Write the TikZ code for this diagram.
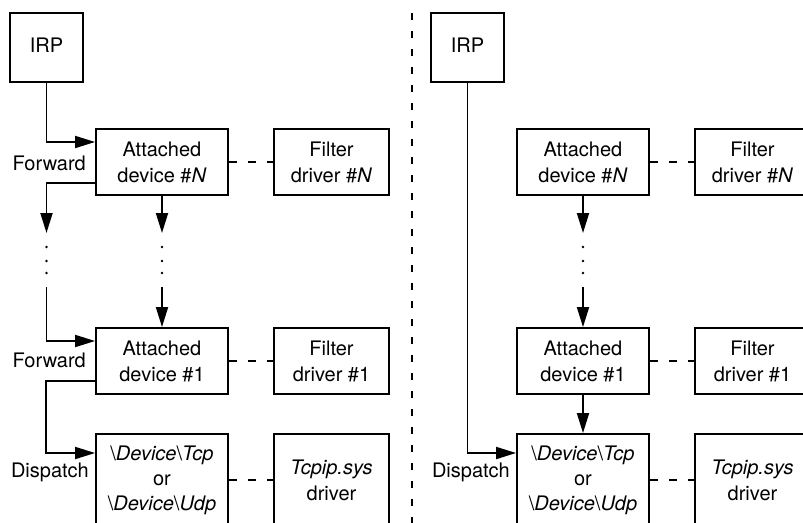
\documentclass[tikz,border=0pt]{standalone}
\usepackage{fontspec}
\setmainfont{TeX Gyre Heros}
\usetikzlibrary{arrows.meta}
\begin{document}
\begin{tikzpicture}[x=1pt,y=-1pt,
  box/.style={draw, line width=1.9pt, align=center, inner sep=0pt,
    font=\fontsize{20}{26}\selectfont},
  attbox/.style={box, minimum width=132pt, minimum height=66pt},
  filbox/.style={box, minimum width=115pt, minimum height=66pt},
  irpbox/.style={box, minimum width=73pt, minimum height=69pt},
  devbox/.style={box, minimum width=132pt, minimum height=92pt,
    font=\fontsize{20}{25}\selectfont},
  tcpbox/.style={box, minimum width=115pt, minimum height=92pt},
  lbl/.style={anchor=east, inner sep=0pt, font=\fontsize{20}{24}\selectfont},
  arr/.style={line width=1.9pt, -{Triangle[length=20pt,width=12pt]}},
  dashline/.style={line width=1.9pt, dash pattern=on 8pt off 11pt},
  divider/.style={line width=2.2pt, dash pattern=on 7pt off 11pt},
  dotmark/.style={fill=black}
]
\path[use as bounding box] (0,0) rectangle (803,522);
\clip (0,0) rectangle (803,522);

% divider
\draw[divider] (412,13) -- (412,530);

% ---------- left half ----------
\node[irpbox] (irp1) at (46.5,47.5) {\raisebox{5pt}{IRP}};
\node[attbox] (an1) at (162,162) {Attached\\device \#\textit{N}};
\node[filbox] (fn1) at (331.5,162) {Filter\\driver \#\textit{N}};
\node[attbox] (a1) at (162,361) {Attached\\device \#1};
\node[filbox] (f1) at (331.5,361) {Filter\\driver \#1};
\node[devbox] (dev1) at (162,480) {\textbackslash\textit{Device}\textbackslash\textit{Tcp}\\or\\\textbackslash\textit{Device}\textbackslash\textit{Udp}};
\node[tcpbox] (tcp1) at (331.5,480) {\textit{Tcpip.sys}\\driver};

\node[lbl] (fw1) at (86,163) {Forward};
\node[lbl] (fw2) at (86,360) {Forward};
\node[lbl] (dp1) at (89,472) {Dispatch};

\coordinate (l1a) at (46.5,233);
\coordinate (l1b) at (46.5,287);
\coordinate (m1a) at (162,233);
\coordinate (m1b) at (162,287);

\draw[arr] (irp1.south) |- ([yshift=20pt]an1.west);
\draw[arr] ([yshift=-21pt]an1.west) -| (l1a);
\draw[arr] (l1b) |- ([yshift=20pt]a1.west);
\draw[arr] (an1.south) -- (m1a);
\draw[arr] (m1b) -- (a1.north);
\draw[arr] ([yshift=-20pt]a1.west) -- ++(-49.5,0) |- ([yshift=27pt]dev1.west);

\foreach \yy in {247,261,273} {
  \fill[dotmark] (46.5,\yy) circle (1.4pt);
  \fill[dotmark] (162,\yy) circle (1.4pt);
}

\draw[dashline] (an1.east) -- (fn1.west);
\draw[dashline] (a1.east) -- (f1.west);
\draw[dashline] (dev1.east) -- (tcp1.west);

% ---------- right half ----------
\node[irpbox] (irp2) at (467.5,47.5) {\raisebox{5pt}{IRP}};
\node[attbox] (an2) at (583,162) {Attached\\device \#\textit{N}};
\node[filbox] (fn2) at (752.5,162) {Filter\\driver \#\textit{N}};
\node[attbox] (a2) at (583,361) {Attached\\device \#1};
\node[filbox] (f2) at (752.5,361) {Filter\\driver \#1};
\node[devbox] (dev2) at (583,480) {\textbackslash\textit{Device}\textbackslash\textit{Tcp}\\or\\\textbackslash\textit{Device}\textbackslash\textit{Udp}};
\node[tcpbox] (tcp2) at (752.5,480) {\textit{Tcpip.sys}\\driver};

\node[lbl] (dp2) at (510,472) {Dispatch};

\coordinate (m2a) at (583,233);
\coordinate (m2b) at (583,287);

\draw[arr] (irp2.south) |- ([yshift=27pt]dev2.west);
\draw[arr] (an2.south) -- (m2a);
\draw[arr] (m2b) -- (a2.north);
\draw[arr] (a2.south) -- (dev2.north);

\foreach \yy in {247,261,273} {
  \fill[dotmark] (583,\yy) circle (1.4pt);
}

\draw[dashline] (an2.east) -- (fn2.west);
\draw[dashline] (a2.east) -- (f2.west);
\draw[dashline] (dev2.east) -- (tcp2.west);
\end{tikzpicture}
\end{document}
